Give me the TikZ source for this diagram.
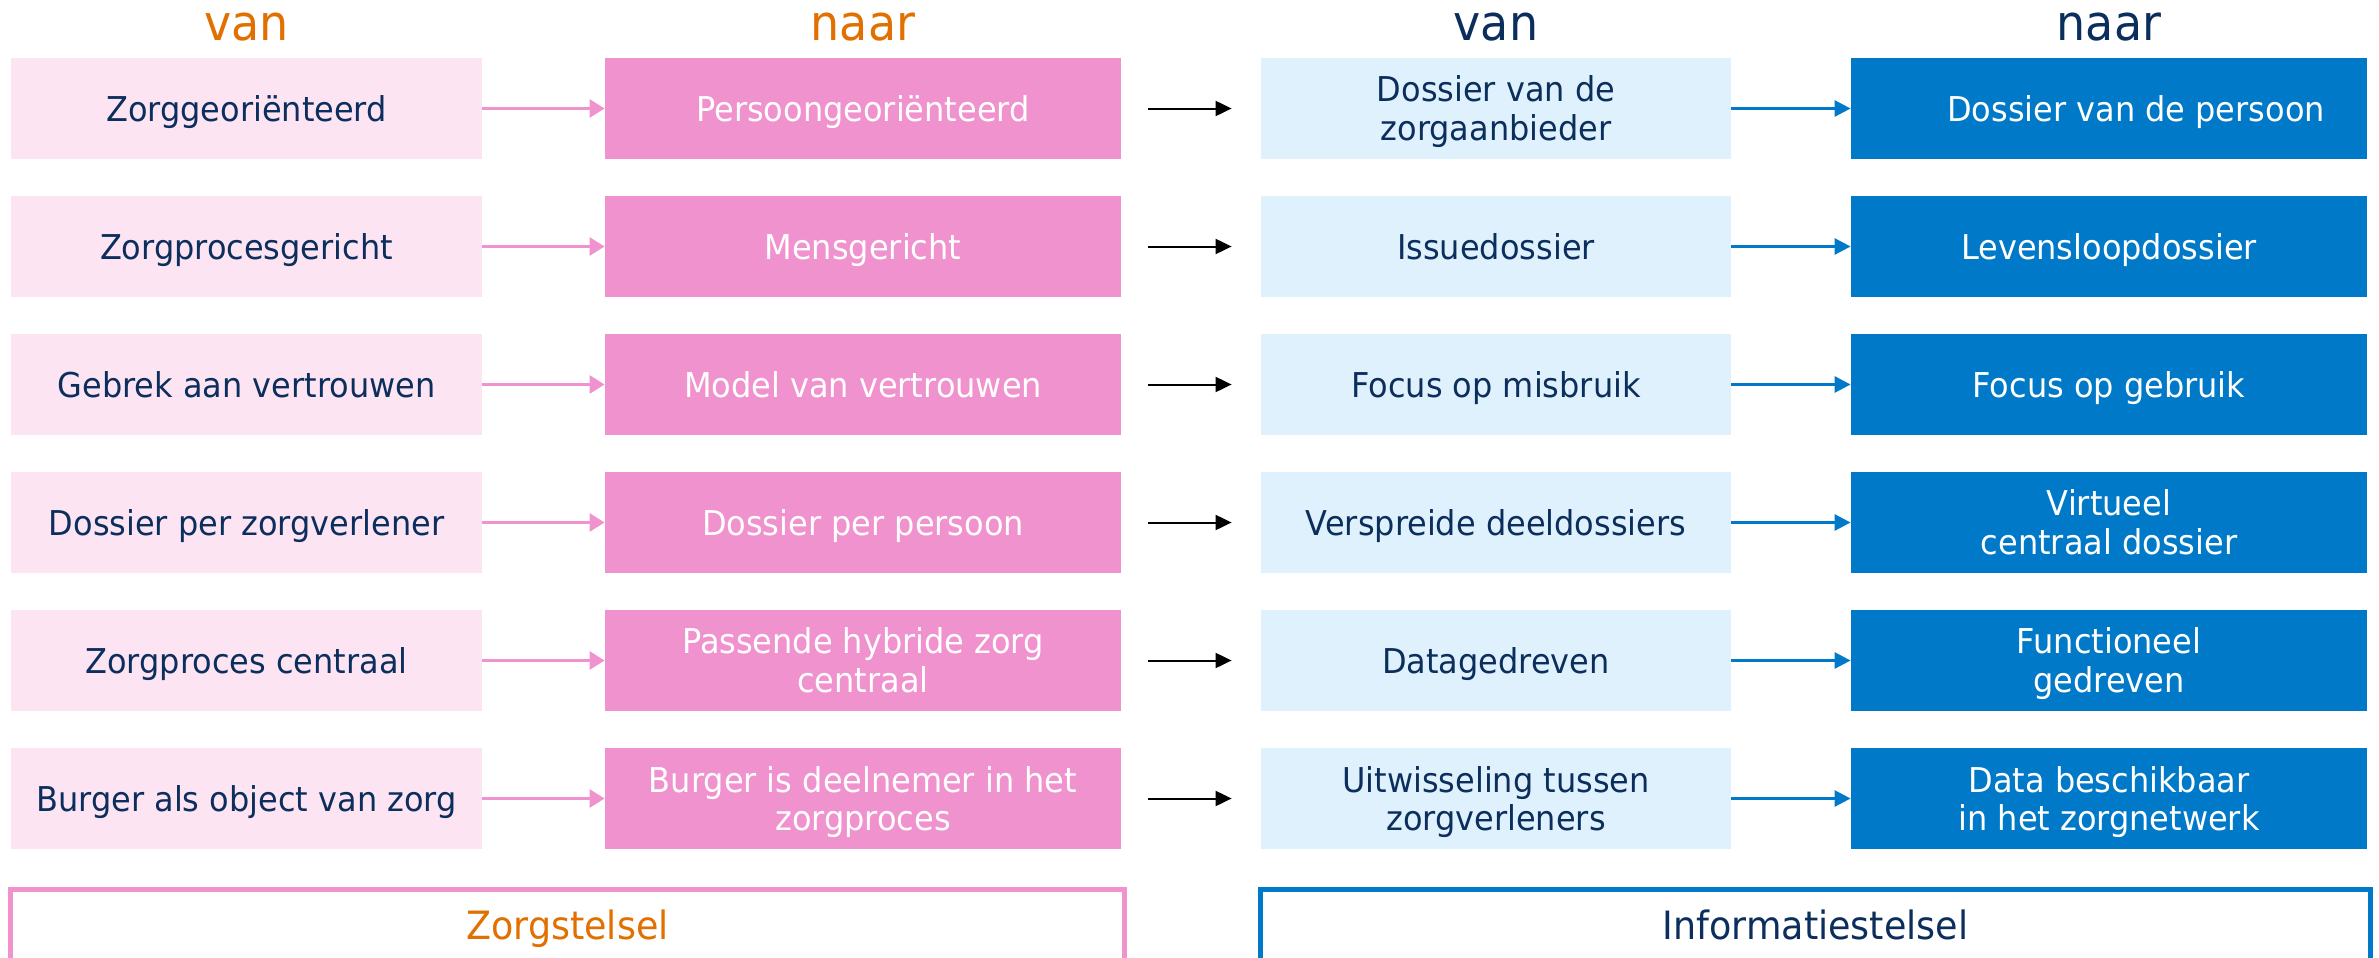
\documentclass[tikz,border=0pt]{standalone}
\usepackage{fontspec}
\setmainfont{DejaVu Sans}[FakeStretch=0.935]
\usepackage{tikz}
\usetikzlibrary{arrows.meta}

\definecolor{zorglicht}{HTML}{FCE4F3}
\definecolor{zorgroze}{HTML}{F092CD}
\definecolor{infolicht}{HTML}{DFF1FD}
\definecolor{infoblauw}{HTML}{0079C8}
\definecolor{tekstblauw}{HTML}{0B2E5C}
\definecolor{oranje}{HTML}{E17000}

\tikzset{
  cel/.style={minimum height=50.5pt, inner sep=2pt, align=center, text depth=0pt,
    font=\fontsize{17.1}{19.5}\selectfont},
  zorgvan/.style={cel, fill=zorglicht, text=tekstblauw, minimum width=235.5pt},
  zorgnaar/.style={cel, fill=zorgroze, text=white, minimum width=258pt},
  infovan/.style={cel, fill=infolicht, text=tekstblauw, minimum width=235pt},
  infonaar/.style={cel, fill=infoblauw, text=white, minimum width=258pt},
  kop/.style={font=\fontsize{24.6}{28}\selectfont, inner sep=0pt, text depth=0pt},
  stelsel/.style={font=\fontsize{19.5}{22}\selectfont, minimum height=35pt,
    inner sep=0pt, text depth=0pt},
  roze pijl/.style={draw=zorgroze, line width=1.35pt, -{Triangle[length=7.5pt,width=9pt]}},
  blauwe pijl/.style={draw=infoblauw, line width=1.35pt, -{Triangle[length=8pt,width=8pt]}},
  zwarte pijl/.style={draw=black, line width=1pt, -{Triangle[length=8pt,width=7.5pt]},
    shorten <=13.5pt, shorten >=14.5pt},
}

\begin{document}
\begin{tikzpicture}[x=0.5pt, y=-0.5pt]
  \useasboundingbox (0,0) rectangle (2379,958);

  % kopjes
  \node[kop, text=oranje]     (kopzv) at (246.5,27) {van};
  \node[kop, text=oranje]     (kopzn) at (863,27)   {naar};
  \node[kop, text=tekstblauw] (kopiv) at (1496,27)  {van};
  \node[kop, text=tekstblauw] (kopin) at (2109,27)  {naar};

  % zorgstelsel: van
  \node[zorgvan] (zv1) at (246.5,108.5) {Zorggeoriënteerd};
  \node[zorgvan] (zv2) at (246.5,246.5) {Zorgprocesgericht};
  \node[zorgvan] (zv3) at (246.5,384.5) {Gebrek aan vertrouwen};
  \node[zorgvan] (zv4) at (246.5,522.5) {Dossier per zorgverlener};
  \node[zorgvan] (zv5) at (246.5,660.5) {Zorgproces centraal};
  \node[zorgvan] (zv6) at (246.5,798.5) {Burger als object van zorg};

  % zorgstelsel: naar
  \node[zorgnaar] (zn1) at (863,108.5) {Persoongeoriënteerd};
  \node[zorgnaar] (zn2) at (863,246.5) {Mensgericht};
  \node[zorgnaar] (zn3) at (863,384.5) {Model van vertrouwen};
  \node[zorgnaar] (zn4) at (863,522.5) {Dossier per persoon};
  \node[zorgnaar] (zn5) at (863,660.5) {Passende hybride zorg\\centraal};
  \node[zorgnaar] (zn6) at (863,798.5) {Burger is deelnemer in het\\zorgproces};

  % informatiestelsel: van
  \node[infovan] (iv1) at (1496,108.5) {Dossier van de\\zorgaanbieder};
  \node[infovan] (iv2) at (1496,246.5) {Issuedossier};
  \node[infovan] (iv3) at (1496,384.5) {Focus op misbruik};
  \node[infovan] (iv4) at (1496,522.5) {Verspreide deeldossiers};
  \node[infovan] (iv5) at (1496,660.5) {Datagedreven};
  \node[infovan] (iv6) at (1496,798.5) {Uitwisseling tussen\\zorgverleners};

  % informatiestelsel: naar
  \node[infonaar] (in1) at (2109,108.5) {\hspace*{27pt}Dossier van de persoon};
  \node[infonaar] (in2) at (2109,246.5) {Levensloopdossier};
  \node[infonaar] (in3) at (2109,384.5) {Focus op gebruik};
  \node[infonaar] (in4) at (2109,522.5) {Virtueel\\centraal dossier};
  \node[infonaar] (in5) at (2109,660.5) {Functioneel\\gedreven};
  \node[infonaar] (in6) at (2109,798.5) {Data beschikbaar\\in het zorgnetwerk};

  % pijlen
  \draw[roze pijl] (zv1) -- (zn1);
  \draw[roze pijl] (zv2) -- (zn2);
  \draw[roze pijl] (zv3) -- (zn3);
  \draw[roze pijl] (zv4) -- (zn4);
  \draw[roze pijl] (zv5) -- (zn5);
  \draw[roze pijl] (zv6) -- (zn6);

  \draw[zwarte pijl] (zn1) -- (iv1);
  \draw[zwarte pijl] (zn2) -- (iv2);
  \draw[zwarte pijl] (zn3) -- (iv3);
  \draw[zwarte pijl] (zn4) -- (iv4);
  \draw[zwarte pijl] (zn5) -- (iv5);
  \draw[zwarte pijl] (zn6) -- (iv6);

  \draw[blauwe pijl] (iv1) -- (in1);
  \draw[blauwe pijl] (iv2) -- (in2);
  \draw[blauwe pijl] (iv3) -- (in3);
  \draw[blauwe pijl] (iv4) -- (in4);
  \draw[blauwe pijl] (iv5) -- (in5);
  \draw[blauwe pijl] (iv6) -- (in6);

  % stelsels onderaan
  \node[stelsel, text=oranje, minimum width=556.5pt] (zorg) at (567.5,925) {Zorgstelsel};
  \node[stelsel, text=tekstblauw, minimum width=554.5pt] (info) at (1815.5,925) {Informatiestelsel};
  \draw[zorgroze, line width=2.5pt] (zorg.south west) -- (zorg.north west)
    -- (zorg.north east) -- (zorg.south east);
  \draw[infoblauw, line width=2.5pt] (info.south west) -- (info.north west)
    -- (info.north east) -- (info.south east);
\end{tikzpicture}
\end{document}
